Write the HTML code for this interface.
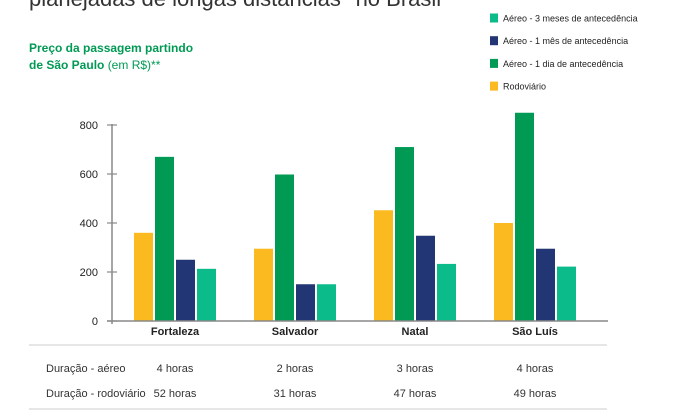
<!DOCTYPE html>
<html><head><meta charset="utf-8"><style>
body{margin:0;background:#fff;font-family:"Liberation Sans",sans-serif;}
#wrap{position:relative;width:680px;height:419px;overflow:hidden;}
.t{position:absolute;white-space:nowrap;}
</style></head><body>
<div id="wrap">
<div class="t" style="left:29px;top:-14px;font-size:22px;color:#333;">planejadas de longas distâncias* no Brasil</div>
<div class="t" style="left:29px;top:40px;font-size:12px;line-height:17px;color:#009a55;font-weight:bold;">Preço da passagem partindo<br>de São Paulo <span style="font-weight:normal;color:#009a55">(em R$)**</span></div>
<svg id="svg" width="680" height="419" style="position:absolute;left:0;top:0"></svg>
</div>
<script>
const categories=["Fortaleza","Salvador","Natal","São Luís"];
const rodoviario=[360,295,452,400];
const aereo1dia=[670,598,710,850];
const aereo1mes=[250,150,348,295];
const aereo3meses=[213,150,233,222];
const yTicks=[0,200,400,600,800];
const durAereo=["4 horas","2 horas","3 horas","4 horas"];
const durRodo=["52 horas","31 horas","47 horas","49 horas"];
const legendLabels=["Aéreo - 3 meses de antecedência","Aéreo - 1 mês de antecedência","Aéreo - 1 dia de antecedência","Rodoviário"];

const NS="http://www.w3.org/2000/svg";
const svg=document.getElementById('svg');
const y0=321,yTop=125,vMax=800;
const y=v=>y0-(v/vMax)*(y0-yTop);
const gx=i=>134+i*120;
const bw=19,gap=2;
function el(tag,a){const e=document.createElementNS(NS,tag);for(const k in a)e.setAttribute(k,a[k]);svg.appendChild(e);return e;}
function txt(x,yy,s,a){const e=el('text',Object.assign({x:x,y:yy,'font-family':'Liberation Sans, sans-serif'},a));e.textContent=s;return e;}

const series=[[rodoviario,'#fbbb20','rodoviario'],[aereo1dia,'#009a55','aereo-1-dia'],[aereo1mes,'#223575','aereo-1-mes'],[aereo3meses,'#0bbb8a','aereo-3-meses']];
categories.forEach((c,i)=>{
  series.forEach((s,j)=>{
    const v=s[0][i];
    const r=el('rect',{x:gx(i)+j*(bw+gap),y:y(v),width:bw,height:y0-y(v),fill:s[1]});
    
    
  });
  const cx=gx(i)+(4*bw+3*gap)/2;
  const l=txt(cx,335,c,{'font-size':11,'font-weight':'bold','text-anchor':'middle',fill:'#222'});
  
  
  const a=txt(cx,372,durAereo[i],{'font-size':11,'text-anchor':'middle',fill:'#333'});
  
  
  const b=txt(cx,397,durRodo[i],{'font-size':11,'text-anchor':'middle',fill:'#333'});
  
  
});
const ax=el('line',{x1:112,y1:yTop-1,x2:112,y2:y0+3,stroke:'#888','stroke-width':1.5});


const bl=el('line',{x1:107,y1:y0,x2:608,y2:y0,stroke:'#888','stroke-width':1.5});


yTicks.forEach(t=>{
  const tk=el('line',{x1:107,y1:y(t),x2:117,y2:y(t),stroke:'#888','stroke-width':1.2});
  
  
  const tl=txt(98,y(t)+4,String(t),{'font-size':11,'text-anchor':'end',fill:'#222'});
  
  
});
[345,409].forEach((yy,k)=>{
  const ln=el('line',{x1:29,y1:yy,x2:607,y2:yy,stroke:'#ccc','stroke-width':1});
  
  
});
const r1=txt(46,372,'Duração - aéreo',{'font-size':11,fill:'#333'});


const r2=txt(46,397,'Duração - rodoviário',{'font-size':11,fill:'#333'});


const lc=['#0bbb8a','#223575','#009a55','#fbbb20'];
legendLabels.forEach((s,i)=>{
  const yy=18+i*22.7;
  const sq=el('rect',{x:490,y:yy-4.5,width:8,height:9,fill:lc[i]});
  
  
  const lt=txt(503,yy+3.5,s,{'font-size':9,fill:'#222'});
  
  
});
</script>
</body></html>
